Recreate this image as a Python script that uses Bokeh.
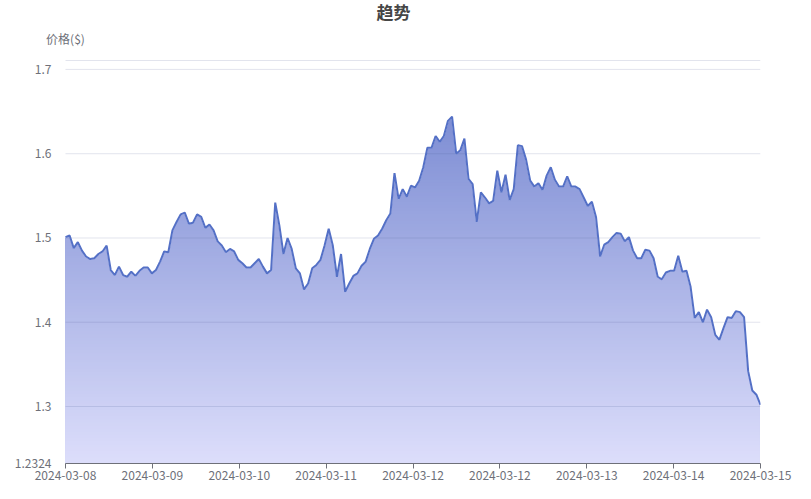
import numpy as np
from bokeh.plotting import figure
from bokeh.models import Range1d, FixedTicker
from bokeh.core.properties import value
from bokeh.embed import file_html
from bokeh.resources import INLINE

title_text = "趋势"
y_name = "价格($)"
y_min = 1.2324
y_max = 1.7106
y_ticks = [1.2324, 1.3, 1.4, 1.5, 1.6, 1.7]
grid_vals = [1.3, 1.4, 1.5, 1.6, 1.7, y_max]
date_labels = ["2024-03-08", "2024-03-09", "2024-03-10", "2024-03-11", "2024-03-12",
               "2024-03-12", "2024-03-13", "2024-03-14", "2024-03-15"]

prices = [
    1.501, 1.503, 1.488, 1.495, 1.485, 1.478, 1.475, 1.476, 1.481, 1.484,
    1.491, 1.462, 1.456, 1.466, 1.456, 1.454, 1.460, 1.455, 1.461, 1.465,
    1.465, 1.458, 1.462, 1.472, 1.484, 1.483, 1.509, 1.519, 1.528, 1.530,
    1.517, 1.518, 1.528, 1.525, 1.512, 1.516, 1.509, 1.496, 1.491, 1.483,
    1.487, 1.484, 1.474, 1.470, 1.465, 1.465, 1.470, 1.475, 1.466, 1.458,
    1.462, 1.542, 1.515, 1.481, 1.500, 1.487, 1.464, 1.458, 1.439, 1.446,
    1.464, 1.468, 1.474, 1.491, 1.511, 1.491, 1.454, 1.481, 1.436, 1.446,
    1.455, 1.458, 1.467, 1.472, 1.487, 1.499, 1.503, 1.511, 1.521, 1.529,
    1.577, 1.546, 1.558, 1.549, 1.562, 1.560, 1.568, 1.584, 1.607, 1.607,
    1.621, 1.614, 1.621, 1.639, 1.644, 1.600, 1.604, 1.618, 1.570, 1.564,
    1.519, 1.554, 1.548, 1.541, 1.544, 1.580, 1.554, 1.575, 1.545, 1.558,
    1.610, 1.609, 1.593, 1.568, 1.561, 1.565, 1.557, 1.574, 1.584, 1.569,
    1.561, 1.561, 1.573, 1.561, 1.561, 1.558, 1.548, 1.538, 1.543, 1.525,
    1.478, 1.492, 1.495, 1.501, 1.506, 1.505, 1.496, 1.501, 1.485, 1.476,
    1.476, 1.486, 1.485, 1.476, 1.454, 1.451, 1.459, 1.461, 1.461, 1.479,
    1.460, 1.461, 1.442, 1.405, 1.412, 1.400, 1.415, 1.406, 1.385, 1.379,
    1.393, 1.406, 1.405, 1.413, 1.412, 1.406, 1.342, 1.319, 1.314, 1.302,
]

FONT = "Noto Sans CJK SC"
n = len(prices)
xs = np.arange(n)
last = n - 1

# layout (pixels): plot area 65..760 x 60..463; frame is extended left/up so that
# the title and the axis name can be drawn inside it
W, Hh = 795, 483
area_left, area_right, area_top, area_bottom = 65, 760, 60, 463
frame_left = 38
kx = (area_right - area_left) / last
ky = (area_bottom - area_top) / (y_max - y_min)
x_start = -(area_left - frame_left) / kx
y_end = y_max + area_top / ky

p = figure(width=W, height=Hh, output_backend="svg", toolbar_location=None,
           x_range=Range1d(x_start, last), y_range=Range1d(y_min, y_end),
           min_border_left=frame_left, min_border_right=W - area_right,
           min_border_top=0, min_border_bottom=Hh - area_bottom)
p.outline_line_color = None
p.background_fill_color = "white"
p.border_fill_color = "white"
p.xgrid.visible = False
p.ygrid.visible = False

# vertical gradient under the line: stacked bands (tallest first), then a white
# mask above the line
top_val = max(prices)
nb = 110
c_top = np.array([126, 142, 212])
c_bot = np.array([221, 222, 251])
band_tops = [y_min + (top_val - y_min) * (i + 1) / nb for i in range(nb)][::-1]
band_cols = []
for bt in band_tops:
    f = (bt - y_min) / (top_val - y_min)
    c = (c_bot + (c_top - c_bot) * f).round().astype(int)
    band_cols.append("#%02x%02x%02x" % tuple(c))
p.quad(left=0, right=last - 0.8 / kx, bottom=y_min, top=band_tops,
       fill_color=band_cols, line_color=None)

pad = 3 / kx
mask_x = list(xs) + [last + pad, last + pad, 0]
mask_y = list(prices) + [prices[-1], y_max + 0.005, y_max + 0.005]
p.patch(mask_x, mask_y, fill_color="white", line_color="white", line_width=1.5)

# horizontal grid lines across the plot area
p.multi_line(xs=[[0, last] for _ in grid_vals], ys=[[g, g] for g in grid_vals],
             line_color="#4a5a8c", line_alpha=0.16, line_width=1)

p.line(xs, prices, line_color="#5470c6", line_width=2)

# y axis
p.yaxis.ticker = FixedTicker(ticks=y_ticks)
p.yaxis.major_label_overrides = {v: (f"{v:.4f}" if v == y_min else f"{v:.1f}") for v in y_ticks}
p.yaxis.axis_line_color = None
p.yaxis.major_tick_line_color = None
p.yaxis.minor_tick_line_color = None
p.yaxis.major_label_text_color = "#6E7079"
p.yaxis.major_label_text_font = FONT
p.yaxis.major_label_text_font_size = "12px"
p.yaxis.major_label_standoff = -(area_left - frame_left - 8)

# x axis
tick_pos = [last * k / 8 for k in range(9)]
p.xaxis.ticker = FixedTicker(ticks=tick_pos)
p.xaxis.bounds = (0, last)
p.xaxis.major_label_overrides = {tp: lab for tp, lab in zip(tick_pos, date_labels)}
p.xaxis.axis_line_color = "#6E7079"
p.xaxis.major_tick_line_color = "#6E7079"
p.xaxis.major_tick_in = 0
p.xaxis.major_tick_out = 5
p.xaxis.minor_tick_line_color = None
p.xaxis.major_label_text_color = "#6E7079"
p.xaxis.major_label_text_font = FONT
p.xaxis.major_label_text_font_size = "12px"
p.xaxis.major_label_standoff = 2

# axis name and chart title
p.text(x=[0], y=[y_max + 22 / ky], text=[y_name], text_align="center",
       text_baseline="middle", text_font=value(FONT), text_font_size="12px",
       text_color="#6E7079")
p.text(x=[(393 - area_left) / kx], y=[y_max + 49 / ky], text=[title_text],
       text_align="center", text_baseline="middle", text_font=value(FONT),
       text_font_size="17px", text_font_style="bold", text_color="#464646")

open("out.html", "w").write(file_html(p, INLINE))
